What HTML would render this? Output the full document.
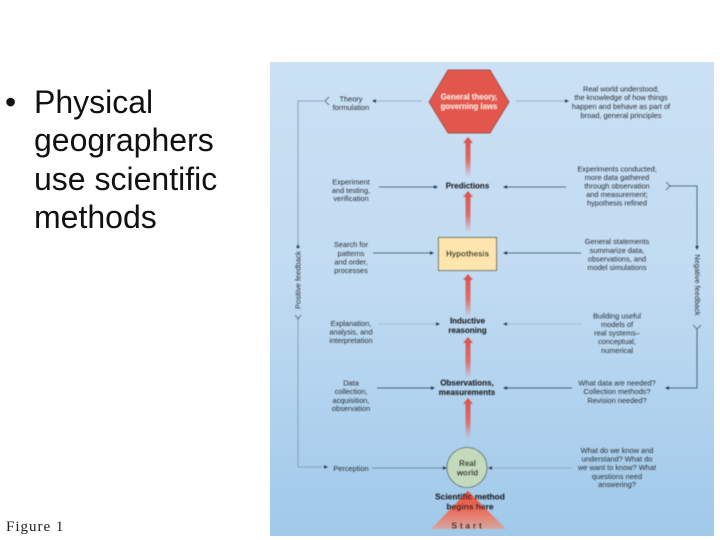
<!DOCTYPE html>
<html><head><meta charset="utf-8"><style>
html,body{margin:0;padding:0;background:#fff}
body{width:720px;height:540px;overflow:hidden;position:relative;font-family:"Liberation Sans",sans-serif}
.t{position:absolute;left:34px;font-size:32px;line-height:38.4px;color:#111;white-space:pre;top:83px}
.d{position:absolute;left:5px;font-size:32px;line-height:38.4px;color:#111;top:83px}
.f{position:absolute;left:6px;top:519px;font-family:"Liberation Serif",serif;font-size:15px;letter-spacing:1px;color:#222;white-space:pre}
svg{position:absolute;left:0;top:0}
.l text{font-size:7.4px;fill:#2a2f35;text-anchor:middle;font-family:"Liberation Sans",sans-serif}
.b text{font-size:8px;font-weight:bold;fill:#111;text-anchor:middle;font-family:"Liberation Sans",sans-serif}
</style></head><body>
<div class="d">•</div>
<div class="t">Physical
geographers
use scientific
methods</div>
<div class="f">Figure 1</div>
<svg width="720" height="540" viewBox="0 0 720 540">
<defs>
<linearGradient id="bg" x1="0" y1="0" x2="0" y2="1"><stop offset="0" stop-color="#cbe0f4"/><stop offset=".45" stop-color="#c1dbf2"/><stop offset="1" stop-color="#a0c9ea"/></linearGradient>
<linearGradient id="ar" x1="0" y1="0" x2="0" y2="1"><stop offset="0" stop-color="#d9534f"/><stop offset=".6" stop-color="#dc6f6e"/><stop offset="1" stop-color="#dc6f6e" stop-opacity="0"/></linearGradient>
<linearGradient id="tr" x1="0" y1="0" x2="0" y2="1"><stop offset="0" stop-color="#ea4f3e"/><stop offset=".55" stop-color="#e8705f"/><stop offset="1" stop-color="#e89a86" stop-opacity=".75"/></linearGradient>
<filter id="s" x="-5%" y="-5%" width="110%" height="110%"><feGaussianBlur stdDeviation="0.42"/></filter>
</defs>
<rect x="270" y="62" width="444" height="474" fill="url(#bg)"/>
<g filter="url(#s)">
<!-- feedback lines -->
<g fill="none" stroke-width="0.8">
<path d="M324 101H298V249M298 319V467H322" stroke="#7d93a8"/>
<path d="M329 97L325 101L329 105" stroke="#4a5a6a"/>
<path d="M670 186H697V247M697 329V388H668" stroke="#2f4a66"/>
<path d="M666 182L670 186L666 190" stroke="#4a5a6a"/>
<path d="M693 325L697 329L701 325" stroke="#4a5a6a"/>
<path d="M295 315L298 319L301 315" stroke="#4a5a6a"/>
</g>
<!-- horizontal connectors -->
<g stroke-width="0.8" fill="none">
<path d="M422 101H376" stroke="#8ca2b6"/>
<path d="M516 101H565" stroke="#8ca2b6"/>
<path d="M379 187H434" stroke="#2f4a66"/>
<path d="M566 187H506" stroke="#2f4a66"/>
<path d="M373 253H430" stroke="#2f4a66"/>
<path d="M581 253H507" stroke="#2f4a66"/>
<path d="M378 324H436" stroke="#9db3c6"/>
<path d="M582 324H506" stroke="#9db3c6"/>
<path d="M377 388H431" stroke="#1f3a58"/>
<path d="M572 388H506" stroke="#1f3a58"/>
<path d="M372 468H443" stroke="#5f7990"/>
<path d="M572 468H492" stroke="#8ca2b6"/>
</g>
<g fill="#22384f">
<path d="M372 101l4-1.8v3.6z"/><path d="M569 101l-4-1.8v3.6z"/>
<path d="M438 187l-4-1.8v3.6z"/><path d="M503 187l4-1.8v3.6z"/>
<path d="M434 253l-4-1.8v3.6z"/><path d="M503 253l4-1.8v3.6z"/>
<path d="M440 324l-4-1.8v3.6z"/><path d="M503 324l4-1.8v3.6z"/>
<path d="M435 388l-4-1.8v3.6z"/><path d="M503 388l4-1.8v3.6z"/>
<path d="M665 388l4-1.8v3.6z"/>
<path d="M447 468l-4-1.8v3.6z"/><path d="M488 468l4-1.8v3.6z"/>
<path d="M328 467l-4-1.8v3.6z"/>
<path d="M298 244l-1.8 4h3.6z"/><path d="M697 250l-1.8-4h3.6z"/>
</g>
<!-- red arrows -->
<g fill="url(#ar)">
<path d="M468 137l5 6h-2.500v34h-5v-34h-2.500z"/>
<path d="M468 191l5 6h-2.500v35h-5v-35h-2.500z"/>
<path d="M468 274l5 6h-2.500v37h-5v-37h-2.500z"/>
<path d="M468 337l5 6h-2.500v35h-5v-35h-2.500z"/>
<path d="M468 398l5 6h-2.500v34h-5v-34h-2.500z"/>
</g>
<!-- start triangle -->
<path d="M468 491L506 529H431Z" fill="url(#tr)"/>
<!-- hexagon -->
<path d="M429 102L448 70H490L509 102L490 133H448Z" fill="#e2574c" stroke="#8a3a36" stroke-width="0.7"/>
<g font-family="Liberation Sans,sans-serif" font-weight="bold" font-size="7.8" fill="#fbe6df" text-anchor="middle">
<text x="469" y="99.5">General theory,</text>
<text x="469" y="109">governing laws</text>
</g>
<!-- hypothesis -->
<rect x="438.500" y="237.500" width="58" height="33" fill="#fde5ae" stroke="#4a4a3a" stroke-width="0.8"/>
<!-- real world -->
<circle cx="467" cy="467.500" r="20" fill="#c5d9bd" stroke="#3f5a4f" stroke-width="0.8"/>
<g class="b">
<text x="467.500" y="188.500">Predictions</text>
<text x="467.500" y="256.500">Hypothesis</text>
<text x="467.500" y="323.500">Inductive</text>
<text x="467.500" y="333">reasoning</text>
<text x="467" y="385.500">Observations,</text>
<text x="467" y="395">measurements</text>
<text x="467.500" y="466">Real</text>
<text x="467.500" y="475.500">world</text>
<text x="470" y="499.500" style="font-size:8.400px">Scientific method</text>
<text x="470" y="509.500" style="font-size:8.400px">begins here</text>
<text x="468" y="528.500" style="letter-spacing:2.8px;font-size:8.4px">Start</text>
</g>
<g class="l">
<text x="351" y="101.500">Theory</text><text x="351" y="110">formulation</text>
<text x="351" y="184.500">Experiment</text><text x="351" y="193">and testing,</text><text x="351" y="201">verification</text>
<text x="351" y="247">Search for</text><text x="351" y="256">patterns</text><text x="351" y="264.500">and order,</text><text x="351" y="273">processes</text>
<text x="351" y="326">Explanation,</text><text x="351" y="334.500">analysis, and</text><text x="351" y="343">interpretation</text>
<text x="351" y="385.500">Data</text><text x="351" y="394">collection,</text><text x="351" y="403">acquisition,</text><text x="351" y="411">observation</text>
<text x="351" y="471">Perception</text>
<text x="621" y="91.500">Real world understood;</text><text x="621" y="100">the knowledge of how things</text><text x="621" y="109">happen and behave as part of</text><text x="621" y="118">broad, general principles</text>
<text x="617" y="171.500">Experiments conducted;</text><text x="617" y="180">more data gathered</text><text x="617" y="188.500">through observation</text><text x="617" y="197">and measurement;</text><text x="617" y="205.500">hypothesis refined</text>
<text x="617" y="244">General statements</text><text x="617" y="253">summarize data,</text><text x="617" y="261.500">observations, and</text><text x="617" y="270">model simulations</text>
<text x="617" y="318.500">Building useful</text><text x="617" y="327">models of</text><text x="617" y="335.500">real systems–</text><text x="617" y="344">conceptual,</text><text x="617" y="353">numerical</text>
<text x="617" y="385.500">What data are needed?</text><text x="617" y="394">Collection methods?</text><text x="617" y="403">Revision needed?</text>
<text x="617" y="453">What do we know and</text><text x="617" y="461.500">understand? What do</text><text x="617" y="470">we want to know? What</text><text x="617" y="479">questions need</text><text x="617" y="487">answering?</text>
<text transform="translate(300.500 280) rotate(-90)">Positive feedback</text>
<text transform="translate(695 285) rotate(90)">Negative feedback</text>
</g>
</g>
</svg>
</body></html>
